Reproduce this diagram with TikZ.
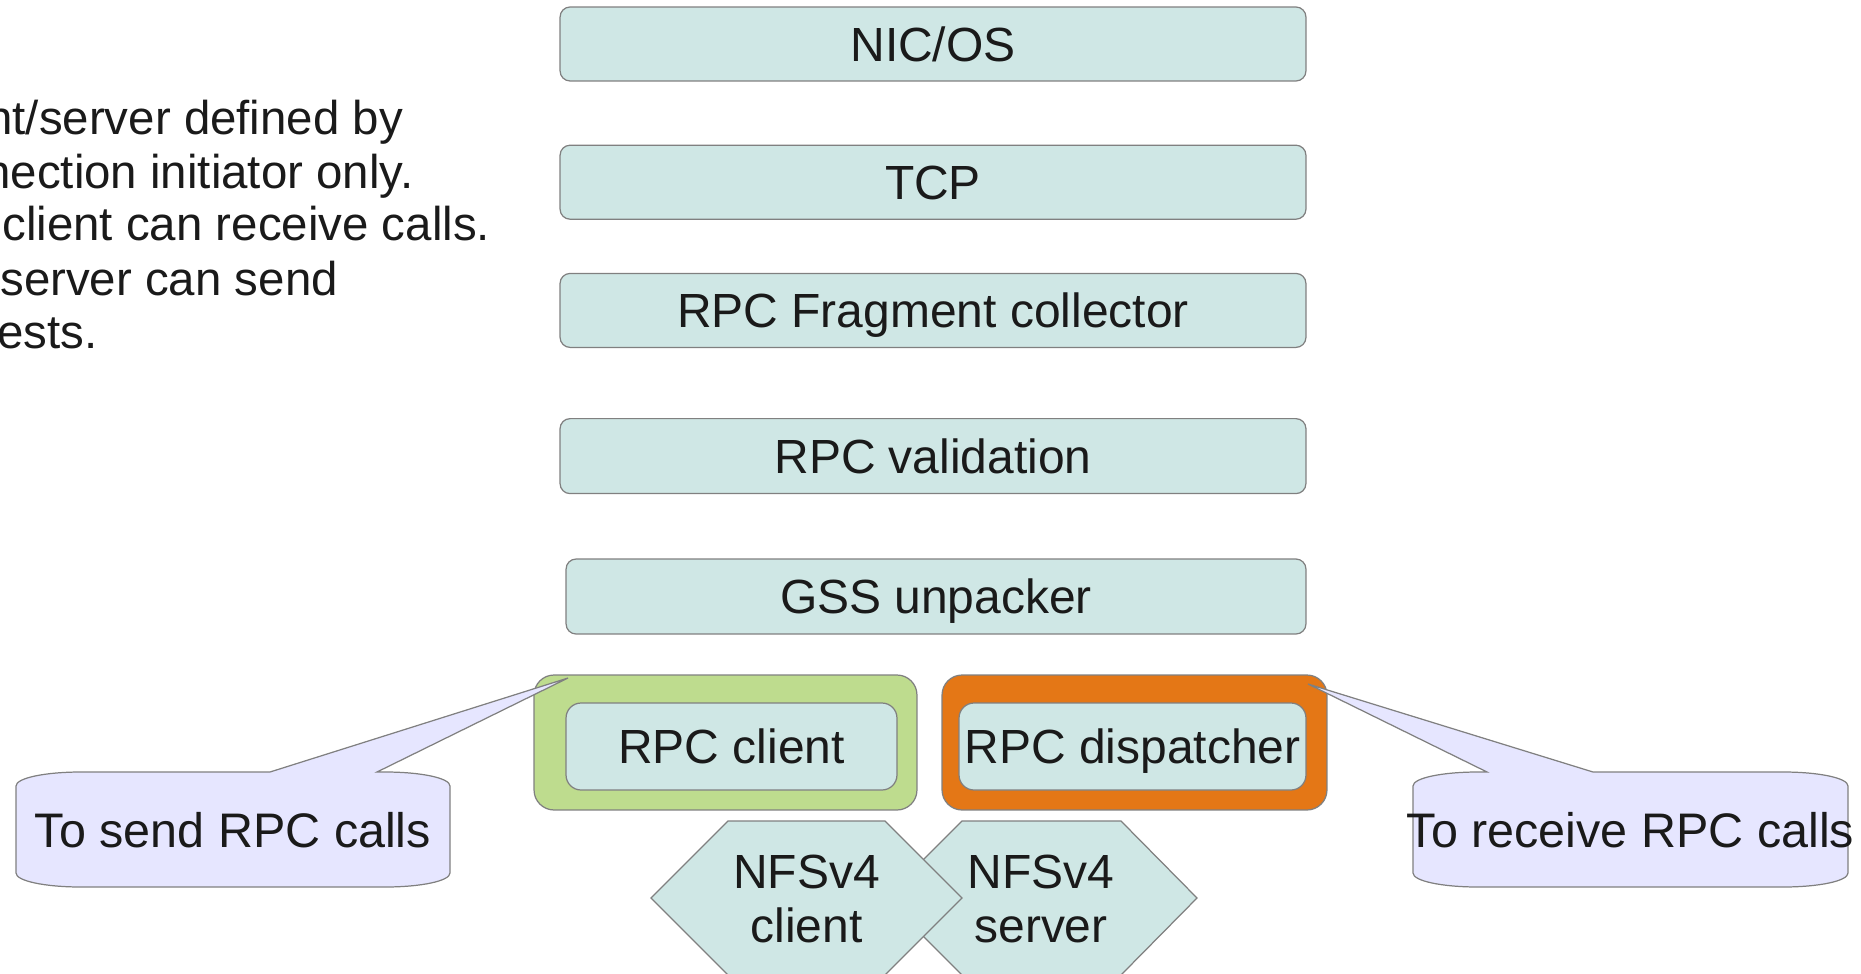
\documentclass[tikz,border=0pt]{standalone}
\usepackage{fontspec}
\setmainfont{Liberation Sans}
\usepackage{tikz}
\usetikzlibrary{positioning}

\definecolor{layerfill}{RGB}{207,231,229}
\definecolor{edgegray}{RGB}{128,128,128}
\definecolor{clientgreen}{RGB}{190,220,142}
\definecolor{serverorange}{RGB}{228,119,22}
\definecolor{bubblefill}{RGB}{230,230,255}
\definecolor{inkgray}{RGB}{26,26,26}

\tikzset{
  layer/.style={draw=edgegray, fill=layerfill, line width=0.7pt, rounded corners=0.2cm,
    inner sep=0pt, minimum width=14.92cm, minimum height=1.48cm, text height=19.6pt, text depth=0pt},
  holder/.style={draw=edgegray, line width=0.7pt, rounded corners=0.4cm, inner sep=0pt, minimum height=2.7cm},
  inbox/.style={layer, rounded corners=0.3cm, minimum height=1.74cm},
  hexa/.style={draw=edgegray, fill=layerfill, line width=0.7pt},
  hexlabel/.style={align=center, inner sep=0pt},
  bubble/.style={draw=edgegray, fill=bubblefill, line width=0.7pt},
  note/.style={anchor=west, inner sep=0pt, font=\fontsize{27}{30.7}\selectfont, text height=19.4pt, text depth=0pt},
  plain/.style={inner sep=0pt, font=\fontsize{27.6}{30.7}\selectfont, text height=19.8pt, text depth=0pt}
}

\begin{document}
\begin{tikzpicture}[x=0.02cm, y=-0.02cm, font=\fontsize{27.3}{30.7}\selectfont, text=inkgray]
\useasboundingbox (0,0) rectangle (1861,973);

\node [layer] (nic) at (933,44) {NIC/OS};
\node [layer, below=1.26cm of nic] (tcp) {TCP};
\node [layer, below=1.06cm of tcp] (frag) {RPC Fragment collector};
\node [layer, below=1.4cm of frag, minimum height=1.5cm] (valid) {RPC validation};
\node [layer, minimum width=14.8cm, minimum height=1.5cm] (gss) at (936,596.5) {GSS unpacker};

\node [holder, fill=clientgreen, minimum width=7.66cm] (clientbox) at (725.5,742.5) {};
\node [holder, fill=serverorange, minimum width=7.7cm] (dispbox) at (1134.5,742.5) {};
\node [inbox, minimum width=6.62cm] (client) at (731.5,746.5) {RPC client};
\node [inbox, minimum width=6.94cm] (disp) at (1132.5,746.5) {RPC dispatcher};

% server hexagon lies under the client one
\draw [hexa] (885,898) -- (962,821) -- (1121,821) -- (1197,898) -- (1121,975) -- (962,975) -- cycle;
\node [hexlabel] (nfsserver) at (1041,899) {NFSv4\\server};
\draw [hexa] (651,898) -- (728,821) -- (885,821) -- (962,898) -- (885,975) -- (728,975) -- cycle;
\node [hexlabel] (nfsclient) at (806.5,899) {NFSv4\\client};

\node [note] (note1) at (-14,117) {nt/server defined by};
\node [note] (note2) at (-16,171) {nection initiator only.};
\node [note] (note3) at (2,223) {client can receive calls.};
\node [note] (note4) at (0,278) {server can send};
\node [note] (note5) at (-3,331) {ests.};

% callouts
\coordinate (sendtip) at (568,678);
\coordinate (recvtip) at (1308,684);
\draw [bubble] (16,786) .. controls (16,778) and (45,772) .. (81,772) -- (270,772) -- (sendtip) -- (377,772)
  -- (385,772) .. controls (421,772) and (450,778) .. (450,786) -- (450,873)
  .. controls (450,881) and (421,887) .. (385,887) -- (81,887) .. controls (45,887) and (16,881) .. (16,873) -- cycle;
\draw [bubble] (1413,786) .. controls (1413,778) and (1442,772) .. (1478,772) -- (1487,772) -- (recvtip) -- (1593,772)
  -- (1783,772) .. controls (1819,772) and (1848,778) .. (1848,786) -- (1848,873)
  .. controls (1848,881) and (1819,887) .. (1783,887) -- (1478,887) .. controls (1442,887) and (1413,881) .. (1413,873) -- cycle;
\node [plain] (sendnote) at (233,830) {To send RPC calls};
\node [plain] (recvnote) at (1630.5,830) {To receive RPC calls};
\end{tikzpicture}
\end{document}
